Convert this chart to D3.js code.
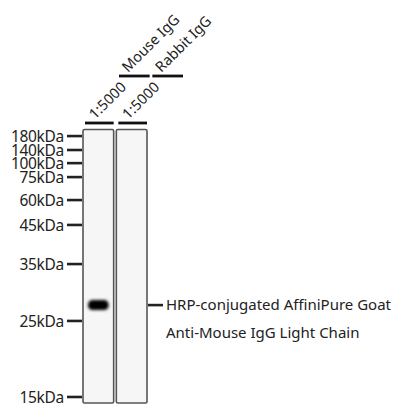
<!DOCTYPE html>
<html>
<head>
<meta charset="utf-8">
<script src="https://cdn.jsdelivr.net/npm/d3@7/dist/d3.min.js"></script>
<style>
  body { margin: 0; background: #fff; }
  text { font-family: "Noto Sans", "Open Sans", sans-serif; fill: #222; }
</style>
</head>
<body>
<div id="blot"></div>
<script>
// marker ladder (kDa) and how far each ran down the gel (0 = top, 1 = bottom)
var markers = [180, 140, 100, 75, 60, 45, 35, 25, 15]
var markerRf = [0.024, 0.075, 0.123, 0.174, 0.258, 0.349, 0.492, 0.700, 0.978]

var lanes = ["lane1", "lane2"]
var dilutions = ["1:5000", "1:5000"]
var antibodies = ["Mouse IgG", "Rabbit IgG"]

// detected bands: lane index, position (rf), intensity
var bandLane = [0]
var bandRf = [0.642]
var bandIntensity = [1]

var targetLabel = ["HRP-conjugated AffiniPure Goat", "Anti-Mouse IgG Light Chain"]

var W = 405, H = 410
var svg = d3.select("#blot").append("svg")
  .attr("width", W)
  .attr("height", H)

var defs = svg.append("defs")
defs.append("filter").attr("id", "blur")
  .attr("x", "-50%").attr("y", "-100%").attr("width", "200%").attr("height", "300%")
  .append("feGaussianBlur").attr("stdDeviation", "1.8 1.6")

var gelTop = 129.5, gelBottom = 403
var y = d3.scaleLinear().domain([0, 1]).range([gelTop, gelBottom])
var x = d3.scaleBand().domain(lanes).range([83, 147]).paddingInner(0.08)

// lanes
svg.selectAll(".lane").data(lanes)
  .enter().append("rect")
    .attr("class", "lane")
    .attr("x", d => x(d))
    .attr("y", gelTop)
    .attr("width", x.bandwidth())
    .attr("height", gelBottom - gelTop)
    .attr("rx", 1.5)
    .attr("fill", "#f6f6f6")
    .attr("stroke", "#555")
    .attr("stroke-width", 1.6)

// bands
svg.selectAll(".band").data(bandRf.map((r, i) => ({rf: r, lane: lanes[bandLane[i]], v: bandIntensity[i]})))
  .enter().append("rect")
    .attr("class", "band")
    .attr("x", d => x(d.lane) + 5)
    .attr("y", d => y(d.rf) - 5)
    .attr("width", x.bandwidth() - 10)
    .attr("height", 10)
    .attr("rx", 4.5)
    .attr("fill", d => d3.interpolateGreys(d.v))
    .attr("filter", "url(#blur)")

// marker ticks + labels
var mk = svg.append("g").attr("id", "markers")
mk.selectAll("line").data(markers)
  .enter().append("line")
    .attr("x1", 67).attr("x2", 82)
    .attr("y1", (d, i) => y(markerRf[i]))
    .attr("y2", (d, i) => y(markerRf[i]))
    .attr("stroke", "#222")
    .attr("stroke-width", 2.6)
mk.selectAll("text").data(markers)
  .enter().append("text")
    .attr("x", 64)
    .attr("y", (d, i) => y(markerRf[i]))
    .attr("dy", "0.36em")
    .attr("text-anchor", "end")
    .attr("font-size", 15.5)
    .attr("letter-spacing", -0.3)
    .text(d => d + "kDa")

// lane header bars + dilution labels
var hdr = svg.append("g").attr("id", "headers")
hdr.selectAll(".bar1").data(lanes)
  .enter().append("line")
    .attr("x1", d => x(d) + 2).attr("x2", d => x(d) + x.bandwidth())
    .attr("y1", 123).attr("y2", 123)
    .attr("stroke", "#111").attr("stroke-width", 2.8)
hdr.selectAll(".dil").data(dilutions)
  .enter().append("text")
    .attr("transform", (d, i) => "translate(" + (x(lanes[i]) + 12) + ",120) rotate(-45)")
    .attr("font-size", 14.5)
    .text(d => d)

// second row, shifted up and to the right
var shift = 35
hdr.selectAll(".bar2").data(lanes)
  .enter().append("line")
    .attr("x1", d => x(d) + shift + 1).attr("x2", d => x(d) + x.bandwidth() + shift + 1)
    .attr("y1", 76).attr("y2", 76)
    .attr("stroke", "#111").attr("stroke-width", 2.8)
hdr.selectAll(".ab").data(antibodies)
  .enter().append("text")
    .attr("transform", (d, i) => "translate(" + (x(lanes[i]) + shift + 10) + ",73) rotate(-45)")
    .attr("font-size", 14.5)
    .text(d => d)

// target annotation
var ty = y(bandRf[0])
svg.append("line")
  .attr("x1", 148).attr("x2", 163)
  .attr("y1", ty).attr("y2", ty)
  .attr("stroke", "#222").attr("stroke-width", 2.6)
svg.selectAll(".target").data(targetLabel)
  .enter().append("text")
    .attr("x", 166)
    .attr("y", (d, i) => ty + i * 28)
    .attr("dy", "0.36em")
    .attr("font-size", 15)
    .text(d => d)
</script>
</body>
</html>
